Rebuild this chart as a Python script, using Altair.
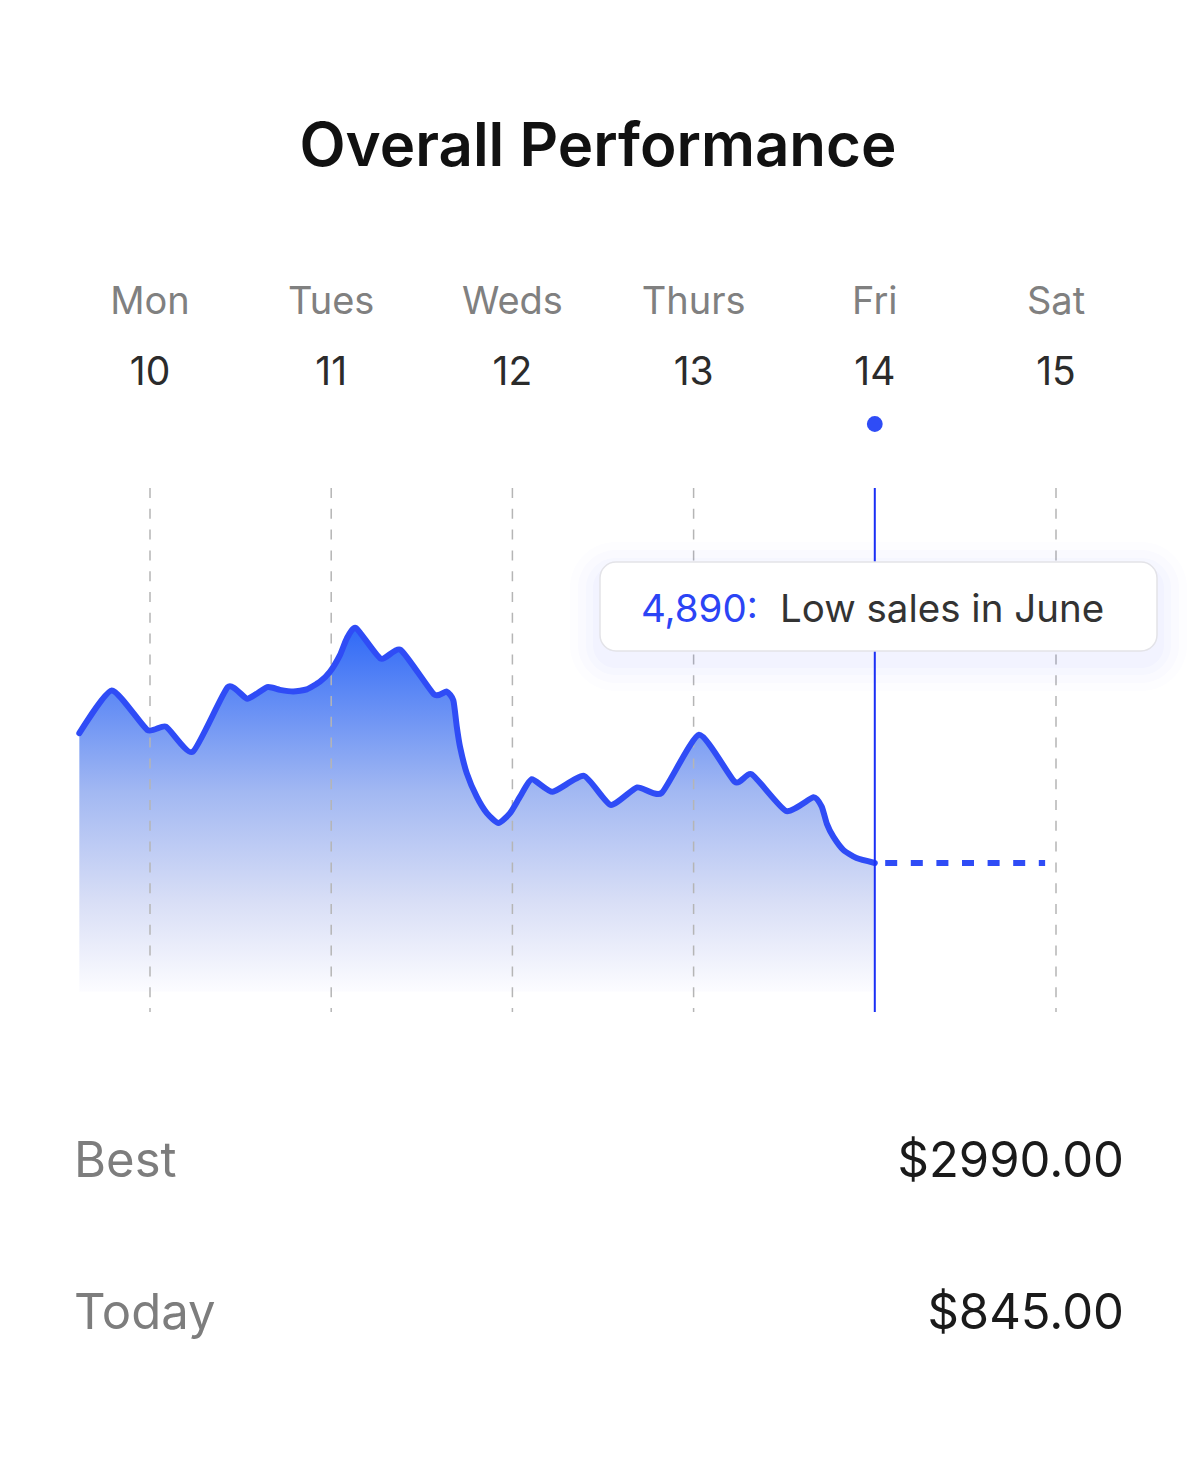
import altair as alt
import pandas as pd

# ---------------- data ----------------
DAY_NUMS = [10, 11, 12, 13, 14, 15]
DAY_NAMES = ["Mon", "Tues", "Weds", "Thurs", "Fri", "Sat"]
SELECTED_DAY = 14

SERIES_DAY = [9.610, 9.789, 9.985, 10.088, 10.236, 10.429, 10.537, 10.647, 10.717,
              10.791, 10.865, 10.938, 10.993, 11.049, 11.086, 11.137, 11.273, 11.384,
              11.567, 11.637, 11.674, 11.693, 11.711, 11.748, 11.803, 11.859, 11.923,
              11.987, 12.042, 12.107, 12.222, 12.395, 12.542, 12.689, 12.824, 13.030,
              13.228, 13.321, 13.510, 13.661, 13.707, 13.735, 13.771, 13.826, 13.899,
              14.000]
SERIES_VALUE = [2030, 2420, 2060, 2090, 1860, 2450, 2345, 2450, 2425,
                2410, 2430, 2500, 2590, 2745, 2895, 2990, 2710, 2790,
                2385, 2410, 2330, 2090, 1905, 1665, 1450, 1300, 1210,
                1300, 1450, 1610, 1495, 1640, 1375, 1535, 1485, 2015,
                1585, 1655, 1320, 1445, 1360, 1205, 1085, 965, 890,
                845]
AREA_BASE = -330

PROJ_DAY = [14.0, 14.94]
PROJ_VALUE = [845, 845]

TITLE = "Overall Performance"
TIP_VALUE = "4,890:"
TIP_TEXT = "Low sales in June"
SUMMARY_LABELS = ["Best", "Today"]
SUMMARY_VALUES = ["$2990.00", "$845.00"]

FONT = "Inter"
BLUE = "#2f4cf6"

# ---------------- tables ----------------
series = pd.DataFrame({"day": SERIES_DAY, "value": SERIES_VALUE,
                       "base": [AREA_BASE] * len(SERIES_DAY)})
proj = pd.DataFrame({"day": PROJ_DAY, "value": PROJ_VALUE})
days = pd.DataFrame({"day": DAY_NUMS, "name": DAY_NAMES, "num": [str(d) for d in DAY_NUMS]})
grid = days[days["day"] != SELECTED_DAY]
sel = days[days["day"] == SELECTED_DAY]

xs = alt.Scale(domain=[10, 15], range=[142, 1048], nice=False, zero=False)
ys = alt.Scale(domain=[845, 2990], range=[855, 620], nice=False, zero=False)
X = alt.X("day:Q", scale=xs, axis=None)
Y = alt.Y("value:Q", scale=ys, axis=None)

grid_rules = alt.Chart(grid).mark_rule(
    color="#b5b5b5", strokeWidth=1.5, strokeDash=[10, 10.8]
).encode(x=X, y=alt.value(480), y2=alt.value(1004))

area = alt.Chart(series).mark_area(
    interpolate="cardinal", tension=0.45,
    color=alt.Gradient(
        gradient="linear",
        stops=[
            alt.GradientStop(color="#2f69f7", offset=0),
            alt.GradientStop(color="#a2b8f2", offset=0.45),
            alt.GradientStop(color="#d8def6", offset=0.75),
            alt.GradientStop(color="#fcfcff", offset=1),
        ],
        x1=1, x2=1, y1=0, y2=1,
    ),
).encode(x=X, y=Y, y2="base:Q")

line = alt.Chart(series).mark_line(
    interpolate="cardinal", tension=0.45, color=BLUE, strokeWidth=6,
    strokeCap="round", strokeJoin="round"
).encode(x=X, y=Y)

proj_line = alt.Chart(proj).mark_line(
    color=BLUE, strokeWidth=6, strokeDash=[12, 13.6], strokeDashOffset=15.2
).encode(x=X, y=Y)

sel_rule = alt.Chart(sel).mark_rule(color="#1a2ff5", strokeWidth=2).encode(
    x=X, y=alt.value(480), y2=alt.value(1004))

dot = alt.Chart(sel).mark_point(filled=True, shape="circle", size=250, color=BLUE, opacity=1).encode(
    x=X, y=alt.value(416))

day_names = alt.Chart(days).mark_text(
    font=FONT, fontSize=38, color="#808080", align="center", baseline="alphabetic"
).encode(x=X, y=alt.value(306), text="name:N")

day_nums = alt.Chart(days).mark_text(
    font=FONT, fontSize=39, color="#2b2b2b", align="center", baseline="alphabetic"
).encode(x=X, y=alt.value(377), text="num:N")

title = alt.Chart(pd.DataFrame({"t": [TITLE]})).mark_text(
    font=FONT, fontSize=60, fontWeight=600, color="#111111", align="center", baseline="alphabetic"
).encode(x=alt.value(590), y=alt.value(158), text="t:N")

# tooltip box with soft shadow
shadow_layers = []
for grow, op in [(30, 0.012), (22, 0.016), (14, 0.02), (7, 0.025)]:
    shadow_layers.append(
        alt.Chart(pd.DataFrame({"k": [0]})).mark_rect(
            color="#4a5cff", opacity=op, cornerRadius=16 + grow
        ).encode(x=alt.value(592 - grow), x2=alt.value(1149 + grow),
                 y=alt.value(554 - grow + 10), y2=alt.value(643 + grow + 10))
    )
tip_box = alt.Chart(pd.DataFrame({"k": [0]})).mark_rect(
    color="#ffffff", stroke="#e3e3e8", strokeWidth=1.5, cornerRadius=16
).encode(x=alt.value(592), x2=alt.value(1149), y=alt.value(554), y2=alt.value(643))
tip_val = alt.Chart(pd.DataFrame({"t": [TIP_VALUE]})).mark_text(
    font=FONT, fontSize=38.5, color="#2b44f5", align="left", baseline="alphabetic"
).encode(x=alt.value(633), y=alt.value(614), text="t:N")
tip_txt = alt.Chart(pd.DataFrame({"t": [TIP_TEXT]})).mark_text(
    font=FONT, fontSize=38.5, color="#333333", align="left", baseline="alphabetic"
).encode(x=alt.value(772), y=alt.value(614), text="t:N")

summary = pd.DataFrame({"label": SUMMARY_LABELS, "val": SUMMARY_VALUES, "row": [0, 1]})
ysum = alt.Y("row:Q", scale=alt.Scale(domain=[0, 1], range=[1169, 1321], nice=False, zero=False), axis=None)
sum_labels = alt.Chart(summary).mark_text(
    font=FONT, fontSize=49, color="#7d7d7d", align="left", baseline="alphabetic"
).encode(x=alt.value(66), y=ysum, text="label:N")
sum_vals = alt.Chart(summary).mark_text(
    font=FONT, fontSize=49, color="#1a1a1a", align="right", baseline="alphabetic"
).encode(x=alt.value(1116), y=ysum, text="val:N")

chart = alt.layer(
    area, grid_rules, line, proj_line, sel_rule, dot,
    *shadow_layers, tip_box, tip_val, tip_txt,
    day_names, day_nums, title, sum_labels, sum_vals,
).resolve_scale(y="independent").properties(
    width=1184, height=1440,
    autosize=alt.AutoSizeParams(type="none"),
    padding=0, background="#ffffff",
).configure_view(stroke=None)

chart.save("out.html", embed_options={"renderer": "svg", "actions": False})
